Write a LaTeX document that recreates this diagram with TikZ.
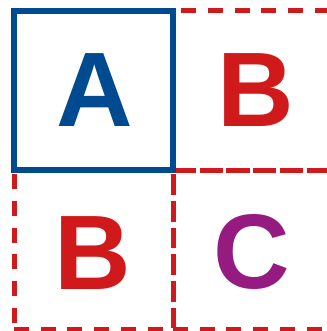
\documentclass[tikz,border=0pt]{standalone}
\usepackage{fontspec}
\setmainfont{Liberation Sans}
\definecolor{cblue}{RGB}{0,74,143}
\definecolor{cred}{RGB}{208,25,27}
\definecolor{cpurple}{RGB}{149,27,128}
\begin{document}
\begin{tikzpicture}[x=1pt,y=-1pt,
  cell/.style={rectangle,minimum size=159pt,inner sep=0pt,outer sep=0pt},
  redcell/.style={cell,draw=cred,line width=5pt,dash pattern=on 15pt off 11.7pt},
  bluecell/.style={cell,draw=cblue,line width=5.2pt},
  letter/.style={inner sep=0pt,font=\fontsize{106}{106}\selectfont\bfseries}]
\useasboundingbox (0,0) rectangle (326,331);
\node[redcell] (c12) at (252.5,90.5) {};
\node[redcell] (c21) at (93.5,250) {};
\node[redcell] (c22) at (252.5,250) {};
\node[bluecell] (c11) at (93.5,90.5) {};
\node[letter,text=cblue] (la) at (94.5,90) {A};
\node[letter,text=cred] (lb1) at (256,90) {B};
\node[letter,text=cred] (lb2) at (93,253.5) {B};
\node[letter,text=cpurple] (lc) at (251.5,252) {C};
\end{tikzpicture}
\end{document}
